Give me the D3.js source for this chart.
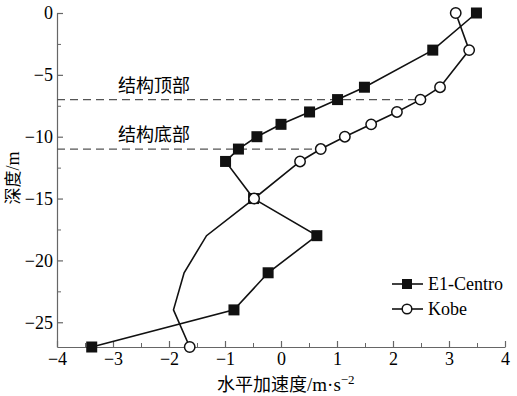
<!DOCTYPE html>
<html>
<head>
<meta charset="utf-8">
<script src="https://cdn.jsdelivr.net/npm/d3@7"></script>
<style>
body { margin: 0; background: #fff; }
svg { display: block; }
.tick text { font-family: "Liberation Serif", serif; font-size: 18px; fill: #000; }
</style>
</head>
<body>
<div id="chart"></div>
<script>
// depth (m) and horizontal acceleration (m/s2)
var elDepth = [0, -3, -6, -7, -8, -9, -10, -11, -12, -15, -18, -21, -24, -27];
var elAcc = [3.49, 2.71, 1.49, 1.01, 0.51, 0.0, -0.43, -0.76, -0.99, -0.49, 0.64, -0.23, -0.84, -3.38];

var kobeDepth = [0, -3, -6, -7, -8, -9, -10, -11, -12, -15, -18, -21, -24, -27];
var kobeAcc = [3.12, 3.36, 2.84, 2.49, 2.07, 1.61, 1.14, 0.71, 0.34, -0.48, -1.33, -1.73, -1.92, -1.63];
var kobeMarked = [1, 1, 1, 1, 1, 1, 1, 1, 1, 1, 0, 0, 0, 1];

var levelDepth = [-7, -11];
var levelNames = ["结构顶部", "结构底部"];

var xTicks = [-4, -3, -2, -1, 0, 1, 2, 3, 4];
var yTicks = [0, -5, -10, -15, -20, -25];

var svg = d3.select("#chart").append("svg")
	.attr("width", 517)
	.attr("height", 396);

var x = d3.scaleLinear().domain([-4, 4]).range([57, 505]);
var y = d3.scaleLinear().domain([-27, 0]).range([347, 13]);

var axisColor = "#666";

// minor ticks
svg.append("g")
	.attr("transform", "translate(0,347)")
	.call(d3.axisBottom(x).tickValues(d3.range(-3.5, 4, 1)).tickSize(-4).tickSizeOuter(0).tickFormat(""))
	.call(function(g){ g.select(".domain").remove(); g.selectAll("line").attr("stroke", axisColor); });
svg.append("g")
	.attr("transform", "translate(57,0)")
	.call(d3.axisLeft(y).tickValues(d3.range(-2.5, -27, -5)).tickSize(-4).tickSizeOuter(0).tickFormat(""))
	.call(function(g){ g.select(".domain").remove(); g.selectAll("line").attr("stroke", axisColor); });

// main axes
svg.append("g")
	.attr("transform", "translate(0,347)")
	.call(d3.axisBottom(x).tickValues(xTicks).tickSize(-6).tickSizeOuter(0).tickPadding(5))
	.call(function(g){
		g.select(".domain").attr("stroke", axisColor).attr("stroke-width", 1.2);
		g.selectAll("line").attr("stroke", axisColor).attr("stroke-width", 1.2);
	});
svg.append("g")
	.attr("transform", "translate(57,0)")
	.call(d3.axisLeft(y).tickValues(yTicks).tickSize(-6).tickSizeOuter(0).tickPadding(4))
	.call(function(g){
		g.select(".domain").attr("stroke", axisColor).attr("stroke-width", 1.2);
		g.selectAll("line").attr("stroke", axisColor).attr("stroke-width", 1.2);
	});

// structure levels
levelDepth.forEach(function(d, i){
	var end = kobeAcc[kobeDepth.indexOf(d)];
	svg.append("line")
		.attr("x1", x(-4))
		.attr("x2", x(end))
		.attr("y1", y(d))
		.attr("y2", y(d))
		.attr("stroke", "#555")
		.attr("stroke-width", 1.2)
		.attr("stroke-dasharray", "8,5");
	svg.append("text")
		.attr("x", 118)
		.attr("y", y(d) - 8)
		.attr("font-family", "Noto Sans CJK SC")
		.attr("font-size", 18)
		.text(levelNames[i]);
});

var line = d3.line()
	.x(function(d){ return x(d[0]); })
	.y(function(d){ return y(d[1]); });

var elPts = elAcc.map(function(a, i){ return [a, elDepth[i]]; });
var kobePts = kobeAcc.map(function(a, i){ return [a, kobeDepth[i]]; });

svg.append("path")
	.attr("d", line(elPts))
	.attr("fill", "none")
	.attr("stroke", "#111")
	.attr("stroke-width", 1.6);
svg.append("path")
	.attr("d", line(kobePts))
	.attr("fill", "none")
	.attr("stroke", "#111")
	.attr("stroke-width", 1.6);

svg.selectAll(".sq")
	.data(elPts)
	.enter().append("rect")
	.attr("class", "sq")
	.attr("x", function(d){ return x(d[0]) - 5.5; })
	.attr("y", function(d){ return y(d[1]) - 5.5; })
	.attr("width", 11)
	.attr("height", 11)
	.attr("fill", "#111");

svg.selectAll(".ci")
	.data(kobePts.filter(function(d, i){ return kobeMarked[i]; }))
	.enter().append("circle")
	.attr("class", "ci")
	.attr("cx", function(d){ return x(d[0]); })
	.attr("cy", function(d){ return y(d[1]); })
	.attr("r", 5.2)
	.attr("fill", "#fff")
	.attr("stroke", "#111")
	.attr("stroke-width", 1.5);

// legend
var legend = svg.append("g");
[["E1-Centro", "sq"], ["Kobe", "ci"]].forEach(function(d, i){
	var ly = 284 + i * 25;
	legend.append("line")
		.attr("x1", 392).attr("x2", 423)
		.attr("y1", ly).attr("y2", ly)
		.attr("stroke", "#111")
		.attr("stroke-width", 1.6);
	if(d[1] == "sq"){
		legend.append("rect")
			.attr("x", 402).attr("y", ly - 5)
			.attr("width", 10).attr("height", 10)
			.attr("fill", "#111");
	}
	else{
		legend.append("circle")
			.attr("cx", 407).attr("cy", ly)
			.attr("r", 4.8)
			.attr("fill", "#fff")
			.attr("stroke", "#111")
			.attr("stroke-width", 1.5);
	}
	legend.append("text")
		.attr("x", 428)
		.attr("y", ly + 6)
		.attr("font-family", "Liberation Serif")
		.attr("font-size", 18)
		.text(d[0]);
});

// axis titles
var xt = svg.append("text")
	.attr("x", 217)
	.attr("y", 391)
	.attr("font-family", "Noto Sans CJK SC")
	.attr("font-size", 18);
xt.append("tspan").text("水平加速度");
xt.append("tspan").attr("font-family", "Liberation Serif").attr("font-size", 19).text("/m·s");
xt.append("tspan").attr("font-family", "Liberation Serif").attr("font-size", 13).attr("dy", -7).text("−2");

var yt = svg.append("text")
	.attr("transform", "translate(19,178) rotate(-90)")
	.attr("text-anchor", "middle")
	.attr("font-family", "Noto Sans CJK SC")
	.attr("font-size", 17);
yt.append("tspan").text("深度");
yt.append("tspan").attr("font-family", "Liberation Serif").attr("font-size", 18).text("/m");
</script>
</body>
</html>
